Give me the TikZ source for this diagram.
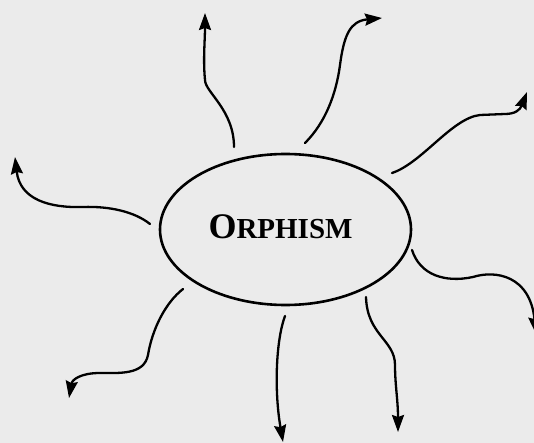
\documentclass[tikz,border=0pt]{standalone}
\usepackage{fontspec}
\setmainfont{Liberation Serif}
\usetikzlibrary{arrows.meta,shapes.geometric}
\definecolor{paper}{RGB}{235,235,235}
\begin{document}
\begin{tikzpicture}[x=1pt,y=-1pt,line width=2.3pt,
  ray/.style={-{Stealth[length=17pt,width=12pt,inset=2pt]},line cap=round},
  hub/.style={draw,ellipse,line width=2.6pt,minimum width=251pt,minimum height=151pt,inner sep=0pt}]
\path[use as bounding box,fill=paper] (0,0) rectangle (534,443);
\node[hub] (orph) at (285.5,229.5) {};
\node[anchor=base,inner sep=0pt,font=\bfseries] (lbl) at (280.5,238) {\fontsize{36}{40}\selectfont O\fontsize{29}{32}\selectfont RPHISM};
\coordinate (s1) at (234,147);
\coordinate (t1) at (205,13);
\coordinate (s2) at (305,143);
\coordinate (t2) at (382,18);
\coordinate (s3) at (392,173);
\coordinate (t3) at (527,92);
\coordinate (s4) at (412,250);
\coordinate (t4) at (536,334);
\coordinate (s5) at (366,297);
\coordinate (t5) at (398,432);
\coordinate (s6) at (183,289);
\coordinate (t6) at (69,398);
\coordinate (s7) at (285,316);
\coordinate (t7) at (283,442);
\coordinate (s8) at (150,224);
\coordinate (t8) at (15,157);
\draw[ray] (s1) .. controls (234,110) and (205,92) .. (205,80) .. controls (203,60) and (205,40) .. (t1);
\draw[ray] (s2) .. controls (325,123) and (336,95) .. (340,65) .. controls (344,35) and (350,21) .. (t2);
\draw[ray] (s3) .. controls (422,163) and (452,118) .. (480,115) -- (505,114) .. controls (515,114) and (520,110) .. (t3);
\draw[ray] (s4) .. controls (420,275) and (445,283) .. (473,277) .. controls (495,270) and (530,275) .. (t4);
\draw[ray] (s5) .. controls (367,335) and (395,340) .. (395,365) .. controls (395,385) and (398,400) .. (t5);
\draw[ray] (s6) .. controls (165,303) and (152,330) .. (148,355) .. controls (144,375) and (120,373) .. (100,373) .. controls (80,373) and (72,380) .. (t6);
\draw[ray] (s7) .. controls (276,340) and (274,390) .. (t7);
\draw[ray] (s8) .. controls (135,212) and (110,206) .. (83,207) .. controls (50,208) and (20,200) .. (t8);
\end{tikzpicture}
\end{document}
